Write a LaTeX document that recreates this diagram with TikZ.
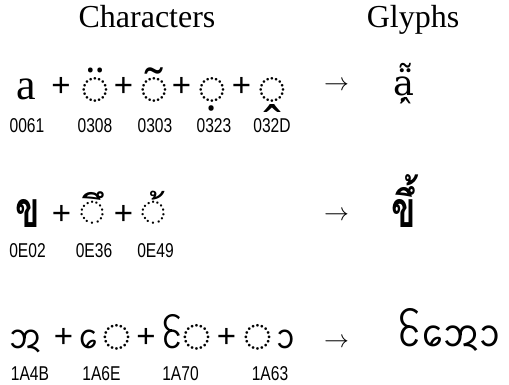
\documentclass[tikz,border=0pt]{standalone}
\usepackage{fontspec}
\setmainfont{Liberation Serif}
\newfontfamily\labelfont[FakeStretch=0.78]{Liberation Sans}
\newfontfamily\plusfont{Liberation Sans}
\newfontfamily\markfont{Noto Sans}
\newfontfamily\resfont{DejaVu Serif}
\newfontfamily\thaifont[Script=Thai]{Loma}
\newfontfamily\thainarrow[Script=Thai,FakeStretch=0.72]{Loma}
\newfontfamily\lannafont{Noto Sans Tai Tham}
\begin{document}
\begin{tikzpicture}[x=1pt,y=-1pt,
  head/.style={font=\fontsize{32}{38}\selectfont, inner sep=0, anchor=base},
  lab/.style={font=\labelfont\fontsize{20}{24}\selectfont, inner sep=0, anchor=base},
  plussign/.style={font=\plusfont\fontsize{33}{38}\selectfont, inner sep=0},
  arr/.style={font=\fontsize{29}{34}\selectfont, inner sep=0},
  mk/.style={font=\markfont\fontsize{50}{58}\selectfont, inner sep=0, anchor=base},
  circ/.style={font=\markfont\fontsize{52}{60}\selectfont, inner sep=0, anchor=center},
  biglatin/.style={font=\fontsize{44}{50}\selectfont, inner sep=0, anchor=base},
  reslatin/.style={font=\resfont\fontsize{35}{41}\selectfont, inner sep=0, anchor=base},
  thaibig/.style={font=\thainarrow\bfseries\fontsize{50}{58}\selectfont, inner sep=0, anchor=base},
  thaimk/.style={font=\thaifont\fontsize{40}{48}\selectfont, inner sep=0, anchor=base},
  lanna/.style={font=\lannafont\fontsize{34}{40}\selectfont, inner sep=0, anchor=base},
  lannares/.style={font=\lannafont\fontsize{38}{44}\selectfont, inner sep=0, anchor=base}]
\useasboundingbox (0,0) rectangle (509,385);
% headings
\node[head] (hc) at (147,28) {Characters};
\node[head] (hg) at (413,28) {Glyphs};
% row 1
\node[biglatin] (a) at (26,100) {a};
\node[plussign] (p11) at (61,87) {+};
\node[mk] (m11) at (95.5,104.5) {◌̈};
\node[plussign] (p12) at (123.5,87) {+};
\node[mk] (m12) at (154,104.5) {◌̃};
\node[plussign] (p13) at (181.5,87) {+};
\node[mk] (m13) at (212,104.5) {◌̣};
\node[plussign] (p14) at (241.5,87) {+};
\node[mk] (m14) at (272,104.5) {◌̭};
\node[arr] (ar1) at (336.5,86) {$\rightarrow$};
\node[reslatin] (r1) at (404,96) {a\char"0308\char"0303\char"0323\char"032D};
\node[lab] (l11) at (27,133) {0061};
\node[lab] (l12) at (95,133) {0308};
\node[lab] (l13) at (155,133) {0303};
\node[lab] (l14) at (214,133) {0323};
\node[lab] (l15) at (272,133) {032D};
% row 2
\node[thaibig, text depth=0pt] (kh) at (27.5,227) {ข};
\node[plussign] (p21) at (61.5,215) {+};
\node[thaimk] (m21) at (92.5,225) {◌ึ};
\node[plussign] (p22) at (123.5,215) {+};
\node[thaimk] (m22) at (154,225) {◌้};
\node[arr] (ar2) at (336.5,216) {$\rightarrow$};
\node[thaibig] (r2) at (403.5,227) {ขึ้};
\node[lab] (l21) at (27.5,257) {0E02};
\node[lab] (l22) at (94,257) {0E36};
\node[lab] (l23) at (155.5,257) {0E49};
% row 3
\node[lanna] (ta) at (26,348) {\char"1A4B};
\node[plussign] (p31) at (63.5,338) {+};
\node[lanna] (v31) at (88.5,348) {\char"1A6E};
\node[circ] (c31) at (117,338) {◌};
\node[plussign] (p32) at (146,338) {+};
\node[lanna] (v32) at (172.5,348) {\char"1A70};
\node[circ] (c32) at (197,338) {◌};
\node[plussign] (p33) at (226.5,338) {+};
\node[circ] (c33) at (258,338) {◌};
\node[lanna] (v33) at (286,348) {\char"1A63};
\node[arr] (ar3) at (336.5,343) {$\rightarrow$};
\node[lannares] (r3) at (449.5,346) {\char"1A70\char"1A6E\char"1A4B\char"1A63};
\node[lab] (l31) at (30,380) {1A4B};
\node[lab] (l32) at (101.5,380) {1A6E};
\node[lab] (l33) at (180.5,380) {1A70};
\node[lab] (l34) at (270,380) {1A63};
\end{tikzpicture}
\end{document}
